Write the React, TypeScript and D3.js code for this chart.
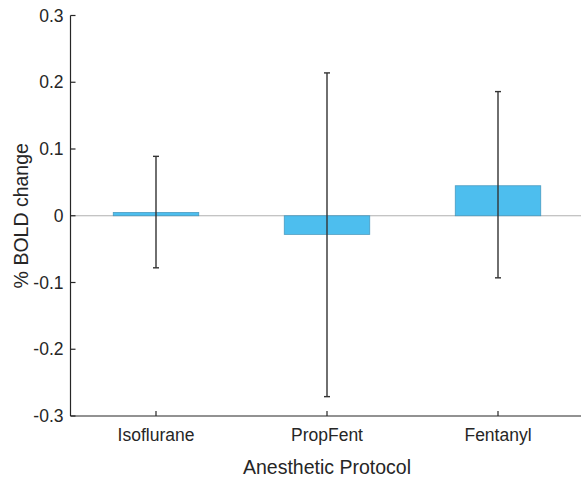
import React from "react";
import * as d3 from "d3";

const categories = ["Isoflurane", "PropFent", "Fentanyl"];
const means = [0.005, -0.028, 0.045];
const errUpper = [0.089, 0.214, 0.186];
const errLower = [-0.078, -0.271, -0.093];
const yTicks = [-0.3, -0.2, -0.1, 0, 0.1, 0.2, 0.3];
const yTickLabels = ["-0.3", "-0.2", "-0.1", "0", "0.1", "0.2", "0.3"];

export default function App() {
  const W = 581, H = 482;
  const x = d3.scaleLinear().domain([0.5, 3.5]).range([70.5, 583.5]);
  const y = d3.scaleLinear().domain([-0.3, 0.3]).range([416, 15.5]);
  const barW = x(1.25) - x(0.75);
  const font = "'Liberation Sans', Arial, sans-serif";
  const tc = "#262626";
  return (
    <svg width={W} height={H} style={{ position: "absolute", left: 0, top: 0, background: "#fff" }}>
      {/* zero line */}
      <line x1={x(0.5)} x2={W} y1={y(0)} y2={y(0)} stroke="#b0b0b0" strokeWidth={1} />
      {means.map((m, i) => {
        const cx = x(i + 1);
        const y0 = y(Math.max(0, m));
        const y1 = y(Math.min(0, m));
        return (
          <rect key={"b" + i} x={cx - barW / 2} y={y0} width={barW} height={Math.max(1, y1 - y0)}
            fill="#4DBEEE" stroke="#3a8fb5" strokeOpacity={0.8} strokeWidth={0.8} />
        );
      })}
      {categories.map((c, i) => {
        const cx = x(i + 1);
        return (
          <g key={"e" + i} stroke="#333" strokeWidth={1.4}>
            <line x1={cx} x2={cx} y1={y(errUpper[i])} y2={y(errLower[i])} />
            <line x1={cx - 3} x2={cx + 3} y1={y(errUpper[i])} y2={y(errUpper[i])} />
            <line x1={cx - 3} x2={cx + 3} y1={y(errLower[i])} y2={y(errLower[i])} />
          </g>
        );
      })}
      {/* axes */}
      <line x1={x(0.5)} x2={x(0.5)} y1={y(0.3)} y2={y(-0.3)} stroke={tc} strokeWidth={1.2} />
      <line x1={x(0.5)} x2={W} y1={y(-0.3)} y2={y(-0.3)} stroke={tc} strokeWidth={1.2} />
      {yTicks.map((t, i) => (
        <g key={"yt" + i}>
          <line x1={x(0.5)} x2={x(0.5) + 5} y1={y(t)} y2={y(t)} stroke={tc} strokeWidth={1.2} />
          <text x={x(0.5) - 7} y={y(t)} dy="0.35em" textAnchor="end" fontFamily={font} fontSize={17.5} fill={tc}>
            {yTickLabels[i]}
          </text>
        </g>
      ))}
      {categories.map((c, i) => (
        <g key={"xt" + i}>
          <line x1={x(i + 1)} x2={x(i + 1)} y1={y(-0.3)} y2={y(-0.3) - 5} stroke={tc} strokeWidth={1.2} />
          <text x={x(i + 1)} y={y(-0.3) + 25} textAnchor="middle" fontFamily={font} fontSize={17.5} fill={tc}>
            {c}
          </text>
        </g>
      ))}
      <text x={x(2)} y={474} textAnchor="middle" fontFamily={font} fontSize={19.5} fill={tc}>
        Anesthetic Protocol
      </text>
      <text transform={`translate(28,${y(0)}) rotate(-90)`} textAnchor="middle" fontFamily={font} fontSize={19.5} fill={tc}>
        % BOLD change
      </text>
    </svg>
  );
}
